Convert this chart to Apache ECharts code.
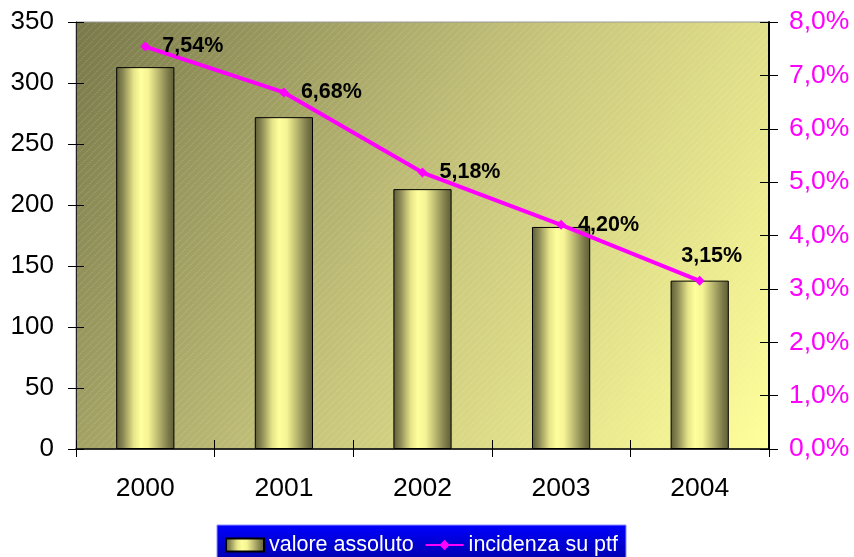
<!DOCTYPE html>
<html><head><meta charset="utf-8">
<script src="https://cdn.jsdelivr.net/npm/echarts@6/dist/echarts.min.js"></script>
<style>html,body{margin:0;padding:0;background:#fff}#c{width:854px;height:557px}</style>
</head><body><div id="c"></div>
<script>
var categories = ['2000', '2001', '2002', '2003', '2004'];
var valoreAssoluto = [313, 272, 213, 182, 138];
var incidenza = [7.54, 6.68, 5.18, 4.20, 3.15];
var leftTicks = {min: 0, max: 350, interval: 50};
var rightTicks = {min: 0, max: 8, interval: 1};

var FONT = '"Liberation Sans", Arial, sans-serif';
var W = 854, H = 557;
var gridBox = {left: 76, right: 85, top: 22, bottom: 108};
var gw = W - gridBox.left - gridBox.right, gh = H - gridBox.top - gridBox.bottom;

// plot-area background: diagonal gradient + light hatch
var bg = document.createElement('canvas');
bg.width = gw; bg.height = gh;
var c2 = bg.getContext('2d');
var g = c2.createLinearGradient(0, 0, gw, gh);
g.addColorStop(0, '#78784a');
g.addColorStop(0.5, '#c6c47a');
g.addColorStop(1, '#ffff9a');
c2.fillStyle = g;
c2.fillRect(0, 0, gw, gh);
c2.strokeStyle = 'rgba(255,255,255,0.22)';
c2.lineWidth = 1;
c2.setLineDash([2, 1]);
c2.beginPath();
for (var k = 0; k < gw + gh; k += 7) {
  c2.moveTo(k - gh, gh + 0.5);
  c2.lineTo(k, 0.5);
}
c2.stroke();

function comma(v, d) { return v.toFixed(d).replace('.', ','); }

var lineData = incidenza.map(function (v, i) {
  if (i === incidenza.length - 1) {
    return {value: v, label: {position: 'top', distance: 9, offset: [12, 0]}};
  }
  return v;
});

var chart = echarts.init(document.getElementById('c'));
chart.setOption({
  animation: false,
  textStyle: {fontFamily: FONT},
  graphic: [{type: 'image', left: gridBox.left, top: gridBox.top, z: -10, silent: true,
    style: {image: bg, width: gw, height: gh}}],
  grid: [
    Object.assign({show: true, borderColor: '#9a9a9a', borderWidth: 1, backgroundColor: 'transparent'}, gridBox),
    Object.assign({show: false}, gridBox)
  ],
  legend: {
    data: [{name: 'valore assoluto', icon: 'rect'}, 'incidenza su ptf'],
    left: 217, top: 525,
    padding: [9, 8, 12, 8],
    itemWidth: 38, itemHeight: 13, itemGap: 11,
    backgroundColor: {type: 'linear', x: 0, y: 0, x2: 0, y2: 1,
      colorStops: [{offset: 0, color: '#0000ff'}, {offset: 1, color: '#00009a'}]},
    borderColor: '#9090ff', borderWidth: 1, borderRadius: 0,
    textStyle: {color: '#ffffff', fontSize: 21.5, fontFamily: FONT}
  },
  xAxis: [
    {type: 'category', gridIndex: 0, data: categories, position: 'bottom',
      axisLine: {lineStyle: {color: '#000', width: 1.5}},
      axisTick: {show: true, length: 8, lineStyle: {color: '#000'}},
      axisLabel: {color: '#000', fontSize: 26.5, margin: 26, fontFamily: FONT}},
    {type: 'category', gridIndex: 1, data: categories, position: 'bottom',
      axisLine: {show: false},
      axisTick: {show: true, inside: true, length: 9, lineStyle: {color: '#000'}},
      axisLabel: {show: false}}
  ],
  yAxis: [
    {type: 'value', gridIndex: 0, position: 'left', min: leftTicks.min, max: leftTicks.max, interval: leftTicks.interval,
      axisLine: {show: true, lineStyle: {color: '#222', width: 1}},
      axisTick: {show: true, length: 8, lineStyle: {color: '#000'}},
      splitLine: {show: false},
      axisLabel: {color: '#000', fontSize: 26, margin: 22, fontFamily: FONT}},
    {type: 'value', gridIndex: 0, position: 'right', min: rightTicks.min, max: rightTicks.max, interval: rightTicks.interval,
      axisLine: {show: true, lineStyle: {color: '#000', width: 2}},
      axisTick: {show: true, length: 9, lineStyle: {color: '#000'}},
      splitLine: {show: false},
      axisLabel: {color: '#ff00ff', fontSize: 26.5, margin: 20, fontFamily: FONT,
        formatter: function (v) { return comma(v, 1) + '%'; }}},
    {type: 'value', gridIndex: 1, position: 'left', min: leftTicks.min, max: leftTicks.max, interval: leftTicks.interval,
      axisLine: {show: false}, splitLine: {show: false}, axisLabel: {show: false},
      axisTick: {show: true, inside: true, length: 8, lineStyle: {color: '#000'}}},
    {type: 'value', gridIndex: 1, position: 'right', min: rightTicks.min, max: rightTicks.max, interval: rightTicks.interval,
      axisLine: {show: false}, splitLine: {show: false}, axisLabel: {show: false},
      axisTick: {show: true, inside: true, length: 9, lineStyle: {color: '#000'}}}
  ],
  series: [
    {name: 'valore assoluto', type: 'bar', xAxisIndex: 0, yAxisIndex: 0, data: valoreAssoluto,
      barWidth: '42%', z: 3,
      itemStyle: {borderColor: '#000', borderWidth: 1,
        color: {type: 'linear', x: 0, y: 0, x2: 1, y2: 0,
          colorStops: [
            {offset: 0, color: '#5e5e36'},
            {offset: 0.12, color: '#8c8a55'},
            {offset: 0.3, color: '#e6e488'},
            {offset: 0.42, color: '#ffff9e'},
            {offset: 0.55, color: '#f6f494'},
            {offset: 0.75, color: '#b0ae6a'},
            {offset: 0.9, color: '#7a7848'},
            {offset: 1, color: '#5e5e36'}]}}},
    {name: 'incidenza su ptf', type: 'line', xAxisIndex: 0, yAxisIndex: 1, data: lineData, z: 5,
      symbol: 'diamond', symbolSize: 10,
      lineStyle: {color: '#ff00ff', width: 4},
      itemStyle: {color: '#ff00ff'},
      label: {show: true, position: 'right', distance: 12, color: '#000', fontWeight: 'bold', fontSize: 21.5,
        fontFamily: FONT,
        formatter: function (p) { return comma(p.value, 2) + '%'; }}}
  ]
});
</script></body></html>
